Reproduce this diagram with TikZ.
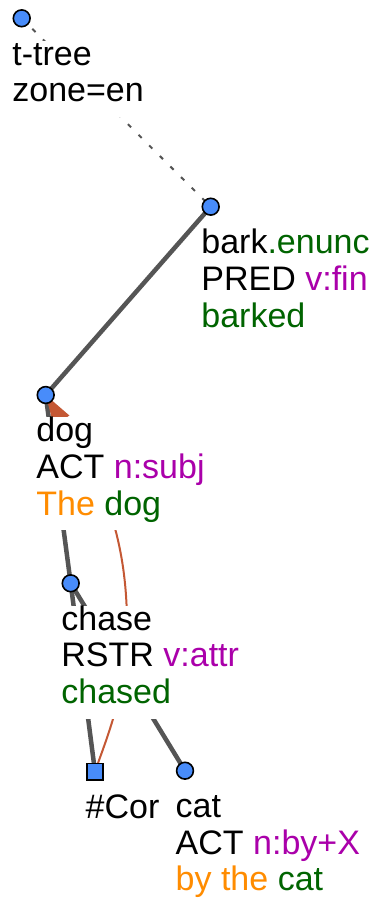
\documentclass[tikz,border=0pt]{standalone}
\usepackage{fontspec}
\setmainfont{Liberation Sans}
\usetikzlibrary{arrows.meta,backgrounds}
\definecolor{tgreen}{RGB}{0,100,0}
\definecolor{tpurple}{RGB}{170,0,170}
\definecolor{torange}{RGB}{255,140,0}
\definecolor{edgegray}{RGB}{85,85,85}
\definecolor{corefc}{RGB}{196,88,52}
\definecolor{nodeblue}{RGB}{72,140,250}
\newcommand{\topstrut}{\rule{0pt}{24.5pt}}
\newcommand{\botstrut}{\rule[-15pt]{0pt}{15pt}}
\begin{document}
\begin{tikzpicture}[x=1pt,y=-1pt,
  tnode/.style={circle,draw=black,line width=1.6pt,fill=nodeblue,minimum size=16.8pt,inner sep=0pt},
  cornode/.style={rectangle,draw=black,line width=1.6pt,fill=nodeblue,minimum size=16.5pt,inner sep=0pt},
  lbl/.style={anchor=north west,fill=white,inner sep=0pt,align=left,font=\fontsize{34}{36.7}\selectfont},
  edge/.style={draw=edgegray,line width=4.5pt},
  dotedge/.style={draw=edgegray,line width=2pt,dash pattern=on 4.5pt off 10.5pt},
  coref/.style={draw=corefc,line width=2pt,-{Triangle[length=30pt,width=18pt]}}]
\useasboundingbox (0,0) rectangle (383,909);
% tree nodes
\node[tnode] (r) at (21.7,18.3) {};
\node[tnode] (bark) at (210.7,206.7) {};
\node[tnode] (dog) at (45.7,395) {};
\node[tnode] (chase) at (70.7,583.3) {};
\node[cornode] (cor) at (95,771.7) {};
\node[tnode] (cat) at (185,770.7) {};
% labels
\node[lbl] (rl) at (12.2,40.4) {\topstrut t-tree\\zone=en\botstrut};
\node[lbl] (barkl) at (201.2,228.8) {\topstrut bark\textcolor{tgreen}{.enunc}\\PRED \textcolor{tpurple}{v:fin}\\\textcolor{tgreen}{barked}\botstrut};
\node[lbl] (dogl) at (36.2,417.1) {\topstrut dog\\ACT \textcolor{tpurple}{n:subj}\\\textcolor{torange}{The} \textcolor{tgreen}{dog}\botstrut};
\node[lbl] (chasel) at (61.2,605.4) {\topstrut chase\\RSTR \textcolor{tpurple}{v:attr}\\\textcolor{tgreen}{chased}\botstrut};
\node[lbl] (corl) at (85.5,793.8) {\topstrut\#Cor\botstrut};
\node[lbl] (catl) at (175.5,792.8) {\topstrut cat\\ACT \textcolor{tpurple}{n:by+X}\\\textcolor{torange}{by the} \textcolor{tgreen}{cat}\botstrut};
% connectors
\begin{scope}[on background layer]
\draw[dotedge] (r.center) -- (bark.center);
\draw[edge] (bark.center) -- (dog.center);
\draw[edge] (dog.center) -- (chase.center);
\draw[edge] (chase.center) -- (cor.center);
\draw[edge] (chase.center) -- (cat.center);
\draw[coref] (cor.center) .. controls (105,742) and (128,690) .. (127,625) .. controls (127,505) and (80,450) .. (dog.center);
\end{scope}
\end{tikzpicture}
\end{document}
